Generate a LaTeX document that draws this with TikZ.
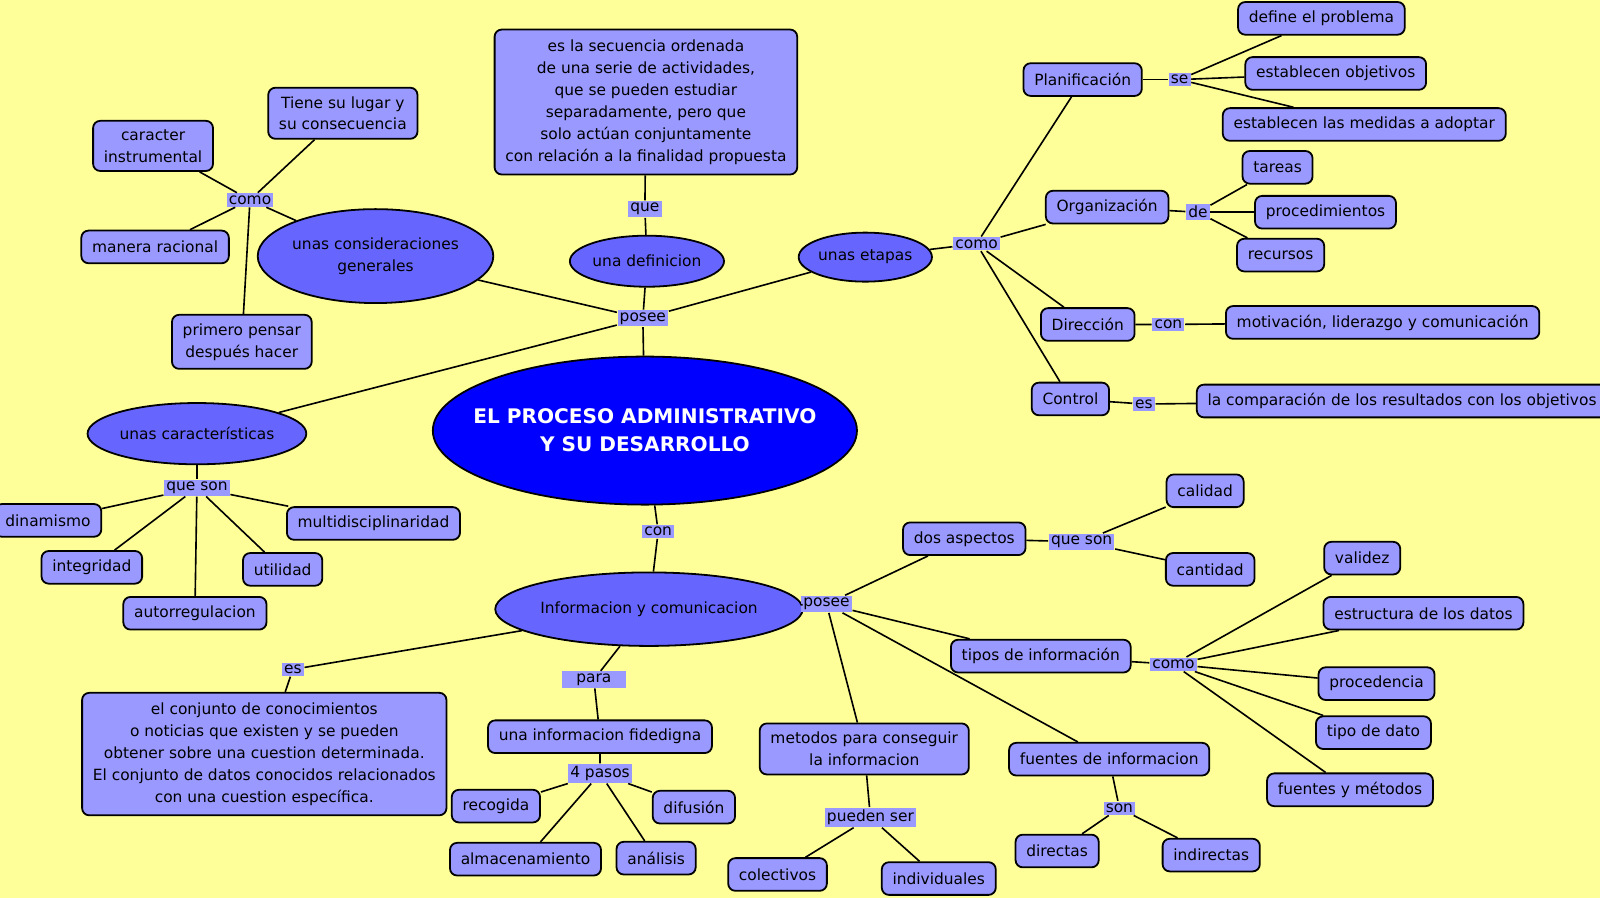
\documentclass[tikz,border=0pt]{standalone}
\usepackage{fontspec}
\setmainfont{DejaVu Sans}
\usetikzlibrary{shapes.geometric}
\definecolor{bgyel}{HTML}{FFFF99}
\definecolor{lav}{HTML}{9999FF}
\definecolor{lavd}{HTML}{6666FF}
\tikzset{
  box/.style={draw=black, fill=lav, rounded corners=2pt, line width=0.5pt,
    align=center, minimum height=0.32cm, inner xsep=3pt, inner ysep=2.4pt,
    font=\fontsize{4.3}{6.1}\selectfont},
  ell/.style={draw=black, fill=lavd, ellipse, line width=0.5pt, align=center,
    inner sep=0pt, font=\fontsize{4.3}{6.1}\selectfont},
  lab/.style={fill=lav, inner sep=0.6pt, font=\fontsize{4.3}{5.2}\selectfont},
  link/.style={line width=0.45pt}
}
\begin{document}
\begin{tikzpicture}[x=0.01cm, y=-0.01cm]
\fill[bgyel] (0,0) rectangle (1568,880);
\useasboundingbox (0,0) rectangle (1568,880);

% centre
\node[ell, fill=blue, text=white, minimum width=3.83cm, minimum height=1.45cm,
  inner sep=-6pt, font=\fontsize{5.6}{7.8}\selectfont\bfseries] (main) at (632,422)
  {EL PROCESO ADMINISTRATIVO\\Y SU DESARROLLO};
\node[lab] (posee) at (630,312) {posee};
\node[lab] (con) at (645,521) {con};

% definicion
\node[ell, minimum width=1.2cm, minimum height=0.5cm] (defi) at (634,256) {una definicion};
\node[lab] (que) at (632,205) {que};
\node[box, minimum width=2.75cm, minimum height=1.42cm] (deftext) at (633,100)
  {es la secuencia ordenada\\de una serie de actividades,\\que se pueden estudiar\\separadamente, pero que\\solo actúan conjuntamente\\con relación a la finalidad propuesta};

% consideraciones
\node[ell, minimum width=1.88cm, minimum height=0.92cm] (consid) at (368,251) {unas consideraciones\\generales};
\node[lab] (como1) at (245,196) {como};
\node[box] (caract) at (150,143) {caracter\\instrumental};
\node[box] (lugar) at (336,111) {Tiene su lugar y\\su consecuencia};
\node[box] (racional) at (152,242) {manera racional};
\node[box] (pensar) at (237,335) {primero pensar\\después hacer};

% etapas
\node[ell, minimum width=1.06cm, minimum height=0.48cm] (etapas) at (848,252) {unas etapas};
\node[lab] (como2) at (957,239) {como};
\node[box] (plan) at (1061,78) {Planificación};
\node[lab] (se) at (1156,78) {se};
\node[box] (defprob) at (1295,18) {define el problema};
\node[box] (objet) at (1309,72) {establecen objetivos};
\node[box] (medidas) at (1337,122) {establecen las medidas a adoptar};
\node[box] (organ) at (1085,203) {Organización};
\node[lab] (de) at (1174,208) {de};
\node[box] (tareas) at (1252,164) {tareas};
\node[box] (proced) at (1299,208) {procedimientos};
\node[box] (recur) at (1255,250) {recursos};
\node[box] (direc) at (1066,318) {Dirección};
\node[lab] (con2) at (1145,318) {con};
\node[box] (motiv) at (1355,316) {motivación, liderazgo y comunicación};
\node[box] (control) at (1049,391) {Control};
\node[lab] (es1) at (1121,396) {es};
\node[box] (compar) at (1374,393) {la comparación de los resultados con los objetivos};

% caracteristicas
\node[ell, minimum width=1.65cm, minimum height=0.6cm] (caracs) at (193,425) {unas características};
\node[lab] (queson1) at (193,478) {que son};
\node[box] (dinam) at (47,510) {dinamismo};
\node[box] (integ) at (90,556) {integridad};
\node[box] (autor) at (191,601) {autorregulacion};
\node[box] (util) at (277,558) {utilidad};
\node[box] (multi) at (366,513) {multidisciplinaridad};

% informacion
\node[ell, minimum width=2.22cm, minimum height=0.72cm] (info) at (636,597) {Informacion y comunicacion};
\node[lab] (posee2) at (810,592) {posee};
\node[lab] (es2) at (287,656) {es};
\node[lab, inner xsep=4pt] (para) at (582,666) {para};
\node[box, minimum width=3.3cm, minimum height=1.2cm] (conj) at (259,739)
  {el conjunto de conocimientos\\o noticias que existen y se pueden\\obtener sobre una cuestion determinada.\\El conjunto de datos conocidos relacionados\\con una cuestion específica.};
\node[box] (fidedig) at (588,722) {una informacion fidedigna};
\node[lab] (pasos) at (588,758) {4 pasos};
\node[box] (recog) at (486,790) {recogida};
\node[box] (difus) at (680,791) {difusión};
\node[box] (almac) at (515,842) {almacenamiento};
\node[box] (anali) at (643,841) {análisis};
\node[box] (aspect) at (945,528) {dos aspectos};
\node[lab] (queson2) at (1060,531) {que son};
\node[box] (calidad) at (1181,481) {calidad};
\node[box] (cantidad) at (1186,558) {cantidad};
\node[box] (tipos) at (1020,643) {tipos de información};
\node[lab] (como3) at (1150,651) {como};
\node[box] (valid) at (1335,547) {validez};
\node[box] (estruc) at (1395,601) {estructura de los datos};
\node[box] (proce) at (1349,670) {procedencia};
\node[box] (tipodato) at (1346,718) {tipo de dato};
\node[box] (fuentm) at (1323,774) {fuentes y métodos};
\node[box] (metod) at (847,734) {metodos para conseguir\\la informacion};
\node[lab] (pueden) at (853,801) {pueden ser};
\node[box] (colec) at (762,857) {colectivos};
\node[box] (indiv) at (920,861) {individuales};
\node[box] (fuentes) at (1087,744) {fuentes de informacion};
\node[lab] (son) at (1097,792) {son};
\node[box] (direct) at (1036,834) {directas};
\node[box] (indirect) at (1187,838) {indirectas};

% links
\draw[link] (main) -- (posee);
\foreach \n in {defi,consid,etapas,caracs} \draw[link] (posee) -- (\n);
\draw[link] (defi) -- (que) -- (deftext);
\foreach \n in {caract,lugar,racional,pensar} \draw[link] (como1) -- (\n);
\draw[link] (consid) -- (como1);
\draw[link] (etapas) -- (como2);
\foreach \n in {plan,organ,direc,control} \draw[link] (como2) -- (\n);
\draw[link] (plan) -- (se);
\foreach \n in {defprob,objet,medidas} \draw[link] (se) -- (\n);
\draw[link] (organ) -- (de);
\foreach \n in {tareas,proced,recur} \draw[link] (de) -- (\n);
\draw[link] (direc) -- (con2) -- (motiv);
\draw[link] (control) -- (es1) -- (compar);
\draw[link] (caracs) -- (queson1);
\foreach \n in {dinam,integ,autor,util,multi} \draw[link] (queson1) -- (\n);
\draw[link] (main) -- (con) -- (info);
\draw[link] (info) -- (posee2);
\draw[link] (info) -- (es2) -- (conj);
\draw[link] (info) -- (para) -- (fidedig) -- (pasos);
\foreach \n in {recog,difus,almac,anali} \draw[link] (pasos) -- (\n);
\foreach \n in {aspect,tipos,metod,fuentes} \draw[link] (posee2) -- (\n);
\draw[link] (aspect) -- (queson2);
\foreach \n in {calidad,cantidad} \draw[link] (queson2) -- (\n);
\draw[link] (tipos) -- (como3);
\foreach \n in {valid,estruc,proce,tipodato,fuentm} \draw[link] (como3) -- (\n);
\draw[link] (metod) -- (pueden);
\foreach \n in {colec,indiv} \draw[link] (pueden) -- (\n);
\draw[link] (fuentes) -- (son);
\foreach \n in {direct,indirect} \draw[link] (son) -- (\n);
\end{tikzpicture}
\end{document}
